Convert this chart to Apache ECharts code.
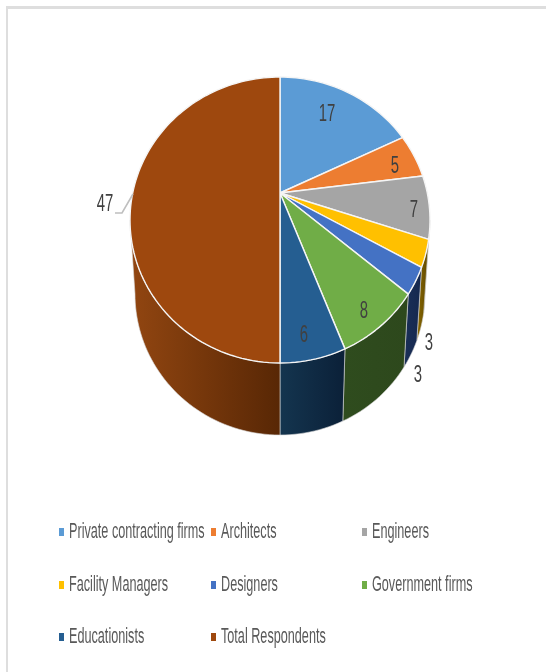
<!doctype html>
<html lang="en">
<head>
    <meta charset="UTF-8">
    <title>Respondents</title>
    <style>
        html, body { margin: 0; padding: 0; background: #fff; }
        #frame { position: absolute; left: 6px; top: 6px; width: 540px; height: 666px; box-sizing: border-box;
                 border-top: 3px solid #dedede; border-left: 2px solid #dedede; }
        #main { position: absolute; left: 0; top: 0; width: 546px; height: 672px; }
    </style>
</head>
<body>
<div id="frame"></div>
<div id="main"></div>
<script type="text/javascript" src="https://cdn.jsdelivr.net/npm/echarts@6/dist/echarts.min.js"></script>
<script type="text/javascript">
    var categories = ['Private contracting firms', 'Architects', 'Engineers', 'Facility Managers',
        'Designers', 'Government firms', 'Educationists', 'Total Respondents'];
    var values = [17, 5, 7, 3, 3, 8, 6, 47];
    // the wedges in the picture add up to 98, not 96: the last wedge just closes the circle
    var circleTotal = 98;

    var topColors = ['#5b9bd5', '#ed7d31', '#a5a5a5', '#ffc000', '#4472c4', '#70ad47', '#255e91', '#9e480e'];
    var wallColors = [
        ['#2f5f8c', '#2f5f8c'], ['#8a4a1c', '#8a4a1c'], ['#5e5e5e', '#5e5e5e'], ['#8a6800', '#5e4800'],
        ['#1a2f58', '#15284e'], ['#2f4c1e', '#2d481c'], ['#14354f', '#0b2038'], ['#924611', '#582705']
    ];

    // tilted pie: top ellipse, bottom rim, and the point where the wedges meet
    var topE = {cx: 280, cy: 220, rx: 150, ry: 143};
    var botE = {cx: 280, cy: 294, rx: 145, ry: 141};
    var apex = [280, 193];
    var persp = 0.855;

    var labelAt = [[327, 114], [395, 166], [414, 210], [429, 343], [418, 375], [364, 311], [304, 335], [105, 204]];
    var legendAt = [[59, 532], [211, 532], [362, 532], [59, 585], [211, 585], [362, 585], [59, 637], [211, 637]];

    function startShare(i) {
        var sum = 0;
        for (var k = 0; k < i; k++) sum += values[k];
        return sum / circleTotal;
    }

    function endShare(i) {
        return i === values.length - 1 ? 1 : startShare(i + 1);
    }

    // true angle on the disc -> angle on the drawn ellipse
    function rimAngle(share) {
        var half = share * Math.PI;
        return 2 * Math.atan2(persp * Math.sin(half), Math.cos(half));
    }

    function rimPoints(e, a, b) {
        var pts = [];
        var n = Math.max(4, Math.ceil((b - a) * 200));
        for (var k = 0; k <= n; k++) {
            var ang = rimAngle(a + (b - a) * k / n);
            pts.push([e.cx + e.rx * Math.sin(ang), e.cy - e.ry * Math.cos(ang)]);
        }
        return pts;
    }

    // share of the circle where the rim angle reaches a given angle
    function shareAtAngle(ang) {
        return 2 * Math.atan2(Math.sin(ang / 2), persp * Math.cos(ang / 2)) / (2 * Math.PI);
    }

    function renderSlice(params, api) {
        var i = params.dataIndex;
        var a = startShare(i), b = endShare(i);
        var kids = [];

        // side wall, only the front half of the rim has one
        var wa = Math.max(a, shareAtAngle(Math.PI / 2));
        var wb = Math.min(b, shareAtAngle(Math.PI * 1.5));
        if (wb > wa) {
            kids.push({
                type: 'polygon', z2: 1,
                shape: {points: rimPoints(topE, wa, wb).concat(rimPoints(botE, wa, wb).reverse())},
                style: {
                    fill: new echarts.graphic.LinearGradient(0, 0, 1, 0, [
                        {offset: 0, color: wallColors[i][0]},
                        {offset: 1, color: wallColors[i][1]}
                    ]),
                    stroke: '#d9d9d9', lineWidth: 0.6
                }
            });
        }
        kids.push({
            type: 'polygon', z2: 5,
            shape: {points: [apex].concat(rimPoints(topE, a, b))},
            style: {fill: topColors[i], stroke: '#f5f5f5', lineWidth: 1.4, lineJoin: 'round'}
        });
        kids.push({
            type: 'text', z2: 10,
            x: labelAt[i][0], y: labelAt[i][1], scaleX: 0.62,
            style: {
                text: String(api.value(0)), fill: '#404040',
                font: '24px "Liberation Sans Narrow", "Liberation Sans", sans-serif',
                textAlign: 'center', textVerticalAlign: 'middle'
            }
        });
        if (i === values.length - 1) {
            kids.push({
                type: 'polyline', z2: 10,
                shape: {points: [[115, 213], [122, 213], [133, 194]]},
                style: {fill: null, stroke: '#bfbfbf', lineWidth: 1.6}
            });
        }

        // legend entry
        kids.push({
            type: 'rect', z2: 10,
            shape: {x: legendAt[i][0], y: legendAt[i][1] - 4, width: 5, height: 8},
            style: {fill: topColors[i]}
        });
        kids.push({
            type: 'text', z2: 10,
            x: legendAt[i][0] + 10, y: legendAt[i][1], scaleX: 0.575,
            style: {
                text: categories[i], fill: '#595959',
                font: '22px "Liberation Sans Narrow", "Liberation Sans", sans-serif',
                textAlign: 'left', textVerticalAlign: 'middle'
            }
        });
        return {type: 'group', children: kids};
    }

    var myChart = echarts.init(document.getElementById('main'));
    myChart.setOption({
        animation: false,
        series: [{
            type: 'custom',
            coordinateSystem: 'none',
            name: 'Respondents',
            clip: false,
            data: values,
            encode: {value: 0},
            renderItem: renderSlice
        }]
    });
</script>
</body>
</html>
